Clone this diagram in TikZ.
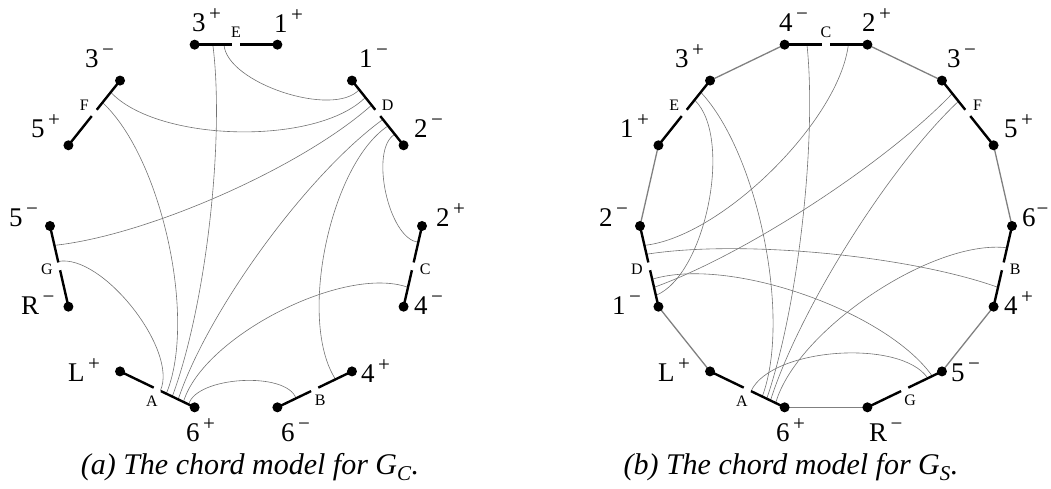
\documentclass[tikz,border=0pt]{standalone}
\usepackage{fontspec}
\setmainfont{Liberation Serif}
\usetikzlibrary{calc}
\tikzset{
  seg/.style={line width=2.4pt, line cap=butt},
  dot/.style={circle, fill=black, inner sep=0pt, minimum size=10pt},
  chordline/.style={line width=0.6pt, black!55},
  edgeline/.style={line width=1.3pt, black!50},
  vlab/.style={anchor=base west, inner sep=0pt, font=\fontsize{27}{27}\selectfont},
  slab/.style={inner sep=0pt, font=\fontsize{16}{16}\selectfont},
  capt/.style={anchor=base, inner sep=0pt, font=\fontsize{30}{30}\selectfont\itshape},
}
\newcommand{\supP}[1][3.5pt]{\kern#1\raisebox{11pt}{\fontsize{21}{21}\selectfont +}}
\newcommand{\supM}[1][3.5pt]{\kern#1\raisebox{11pt}{\fontsize{21}{21}\selectfont −}}
\newcommand{\chord}[3]{\draw[chordline] let \p1=($(#3)-(#2)$), \n1={0.27*veclen(\x1,\y1)} in (#2) .. controls ($(#2)!\n1!(#1)$) and ($(#3)!\n1!(#1)$) .. (#3);}
\newcommand{\gapseg}[3]{% #1 start, #2 end, #3 midpoint name
  \coordinate (#3) at ($(#1)!0.5!(#2)$);
  \draw[seg] (#1) -- ($(#3)!4pt!(#1)$);
  \draw[seg] (#2) -- ($(#3)!4pt!(#2)$);}
\begin{document}
\begin{tikzpicture}[x=1pt,y=1pt]
\useasboundingbox (0,0) rectangle (1051,489);
\coordinate (OL) at (236,263);
\coordinate (OR) at (826,263);
\foreach \i/\a in {1/77.143,2/51.429,3/25.714,4/0,5/-25.714,6/-51.429,7/-77.143,8/-102.857,9/-128.571,10/-154.286,11/180,12/154.286,13/128.571,14/102.857}{
  \coordinate (L\i) at ($(OL)+(\a:186)$);
  \coordinate (R\i) at ($(OR)+(\a:186)$);
}
% ---------- left chord endpoints ----------
\coordinate (lEA) at ($(L14)!0.22!(L1)$);
\coordinate (lED) at ($(L14)!0.355!(L1)$);
\coordinate (lDE) at ($(L2)!0.14!(L3)$);
\coordinate (lDF) at ($(L2)!0.26!(L3)$);
\coordinate (lDG) at ($(L2)!0.38!(L3)$);
\coordinate (lDA) at ($(L2)!0.60!(L3)$);
\coordinate (lDB) at ($(L2)!0.70!(L3)$);
\coordinate (lDC) at ($(L2)!0.83!(L3)$);
\coordinate (lCD) at ($(L4)!0.2!(L5)$);
\coordinate (lCA) at ($(L4)!0.76!(L5)$);
\coordinate (lBD) at ($(L6)!0.22!(L7)$);
\coordinate (lBA) at ($(L6)!0.75!(L7)$);
\coordinate (lAB) at ($(L8)!0.08!(L9)$);
\coordinate (lAC) at ($(L8)!0.15!(L9)$);
\coordinate (lAD) at ($(L8)!0.22!(L9)$);
\coordinate (lAE) at ($(L8)!0.30!(L9)$);
\coordinate (lAF) at ($(L8)!0.38!(L9)$);
\coordinate (lAG) at ($(L8)!0.46!(L9)$);
\coordinate (lGA) at ($(L10)!0.56!(L11)$);
\coordinate (lGD) at ($(L10)!0.76!(L11)$);
\coordinate (lFA) at ($(L12)!0.66!(L13)$);
\coordinate (lFD) at ($(L12)!0.82!(L13)$);
% ---------- left chords ----------
\chord{OL}{lED}{lDE}
\chord{OL}{lEA}{lAE}
\chord{OL}{lFD}{lDF}
\chord{OL}{lFA}{lAF}
\chord{OL}{lGD}{lDG}
\chord{OL}{lGA}{lAG}
\chord{OL}{lDA}{lAD}
\chord{OL}{lDB}{lBD}
\chord{OL}{lDC}{lCD}
\chord{OL}{lAC}{lCA}
\chord{OL}{lAB}{lBA}
% ---------- right chord endpoints ----------
\coordinate (rCA) at ($(R14)!0.27!(R1)$);
\coordinate (rCD) at ($(R14)!0.77!(R1)$);
\coordinate (rFD) at ($(R2)!0.2!(R3)$);
\coordinate (rFA) at ($(R2)!0.32!(R3)$);
\coordinate (rBA) at ($(R4)!0.27!(R5)$);
\coordinate (rBD) at ($(R4)!0.76!(R5)$);
\coordinate (rGD) at ($(R6)!0.13!(R7)$);
\coordinate (rGA) at ($(R6)!0.19!(R7)$);
\coordinate (rAB) at ($(R8)!0.12!(R9)$);
\coordinate (rAF) at ($(R8)!0.19!(R9)$);
\coordinate (rAC) at ($(R8)!0.24!(R9)$);
\coordinate (rAE) at ($(R8)!0.30!(R9)$);
\coordinate (rAG) at ($(R8)!0.45!(R9)$);
\coordinate (rDE) at ($(R10)!0.14!(R11)$);
\coordinate (rDF) at ($(R10)!0.24!(R11)$);
\coordinate (rDG) at ($(R10)!0.34!(R11)$);
\coordinate (rDB) at ($(R10)!0.65!(R11)$);
\coordinate (rDC) at ($(R10)!0.76!(R11)$);
\coordinate (rED) at ($(R12)!0.70!(R13)$);
\coordinate (rEA) at ($(R12)!0.82!(R13)$);
% ---------- right chords ----------
\chord{OR}{rCA}{rAC}
\chord{OR}{rCD}{rDC}
\chord{OR}{rFD}{rDF}
\chord{OR}{rFA}{rAF}
\chord{OR}{rBA}{rAB}
\chord{OR}{rBD}{rDB}
\chord{OR}{rGD}{rDG}
\chord{OR}{rGA}{rAG}
\chord{OR}{rEA}{rAE}
\chord{OR}{rED}{rDE}
% ---------- right polygon edges ----------
\draw[edgeline] (R1) -- (R2);
\draw[edgeline] (R3) -- (R4);
\draw[edgeline] (R5) -- (R6);
\draw[edgeline] (R7) -- (R8);
\draw[edgeline] (R9) -- (R10);
\draw[edgeline] (R11) -- (R12);
\draw[edgeline] (R13) -- (R14);
% ---------- segments ----------
\gapseg{L14}{L1}{mLE}
\gapseg{L2}{L3}{mLD}
\gapseg{L4}{L5}{mLC}
\gapseg{L6}{L7}{mLB}
\gapseg{L8}{L9}{mLA}
\gapseg{L10}{L11}{mLG}
\gapseg{L12}{L13}{mLF}
\gapseg{R14}{R1}{mRC}
\gapseg{R2}{R3}{mRF}
\gapseg{R4}{R5}{mRB}
\gapseg{R6}{R7}{mRG}
\gapseg{R8}{R9}{mRA}
\gapseg{R10}{R11}{mRD}
\gapseg{R12}{R13}{mRE}
\foreach \i in {1,...,14}{
  \node[dot] (dL\i) at (L\i) {};
  \node[dot] (dR\i) at (R\i) {};
}
% ---------- segment letters ----------
\node[slab] (tLE) at ($(OL)+(90:194)$) {E};
\node[slab] (tLD) at ($(OL)+(38.571:194)$) {D};
\node[slab] (tLC) at ($(OL)+(-12.857:194)$) {C};
\node[slab] (tLB) at ($(OL)+(-64.286:194)$) {B};
\node[slab] (tLA) at ($(OL)+(-115.714:194)$) {A};
\node[slab] (tLG) at ($(OL)+(-167.143:194)$) {G};
\node[slab] (tLF) at ($(OL)+(141.429:194)$) {F};
\node[slab] (tRC) at ($(OR)+(90:194)$) {C};
\node[slab] (tRF) at ($(OR)+(38.571:194)$) {F};
\node[slab] (tRB) at ($(OR)+(-12.857:194)$) {B};
\node[slab] (tRG) at ($(OR)+(-64.286:194)$) {G};
\node[slab] (tRA) at ($(OR)+(-115.714:194)$) {A};
\node[slab] (tRD) at ($(OR)+(-167.143:194)$) {D};
\node[slab] (tRE) at ($(OR)+(141.429:194)$) {E};
% ---------- vertex labels, left ----------
\node[vlab] (nL14) at (192,457) {3\supP};
\node[vlab] (nL1) at (274,456) {1\supP};
\node[vlab] (nL2) at (359,421) {1\supM};
\node[vlab] (nL3) at (414,351) {2\supM};
\node[vlab] (nL4) at (436,262) {2\supP};
\node[vlab] (nL5) at (414,174) {4\supM};
\node[vlab] (nL6) at (361,106) {4\supP};
\node[vlab] (nL7) at (281,47) {6\supM};
\node[vlab] (nL8) at (186,47) {6\supP};
\node[vlab] (nL9) at (68,107) {L\supP};
\node[vlab] (nL10) at (21,174) {R\supM};
\node[vlab] (nL11) at (9,262) {5\supM};
\node[vlab] (nL12) at (31,351) {5\supP};
\node[vlab] (nL13) at (85,421) {3\supM};
% ---------- vertex labels, right ----------
\node[vlab] (nR14) at (779,457) {4\supM};
\node[vlab] (nR1) at (862,457) {2\supP};
\node[vlab] (nR2) at (947,421) {3\supM};
\node[vlab] (nR3) at (1004,351) {5\supP};
\node[vlab] (nR4) at (1022,262) {6\supM[1pt]};
\node[vlab] (nR5) at (1004,174) {4\supP};
\node[vlab] (nR6) at (951,107) {5\supM};
\node[vlab] (nR7) at (869,47) {R\supM};
\node[vlab] (nR8) at (776,47) {6\supP};
\node[vlab] (nR9) at (658,107) {L\supP};
\node[vlab] (nR10) at (612,174) {1\supM};
\node[vlab] (nR11) at (599,262) {2\supM};
\node[vlab] (nR12) at (620,351) {1\supP};
\node[vlab] (nR13) at (675,421) {3\supP};
% ---------- captions ----------
\node[capt] (capL) at (250,14) {(a) The chord model for G\textsubscript{C}.};
\node[capt] (capR) at (791,14) {(b) The chord model for G\textsubscript{S}.};
\end{tikzpicture}
\end{document}
